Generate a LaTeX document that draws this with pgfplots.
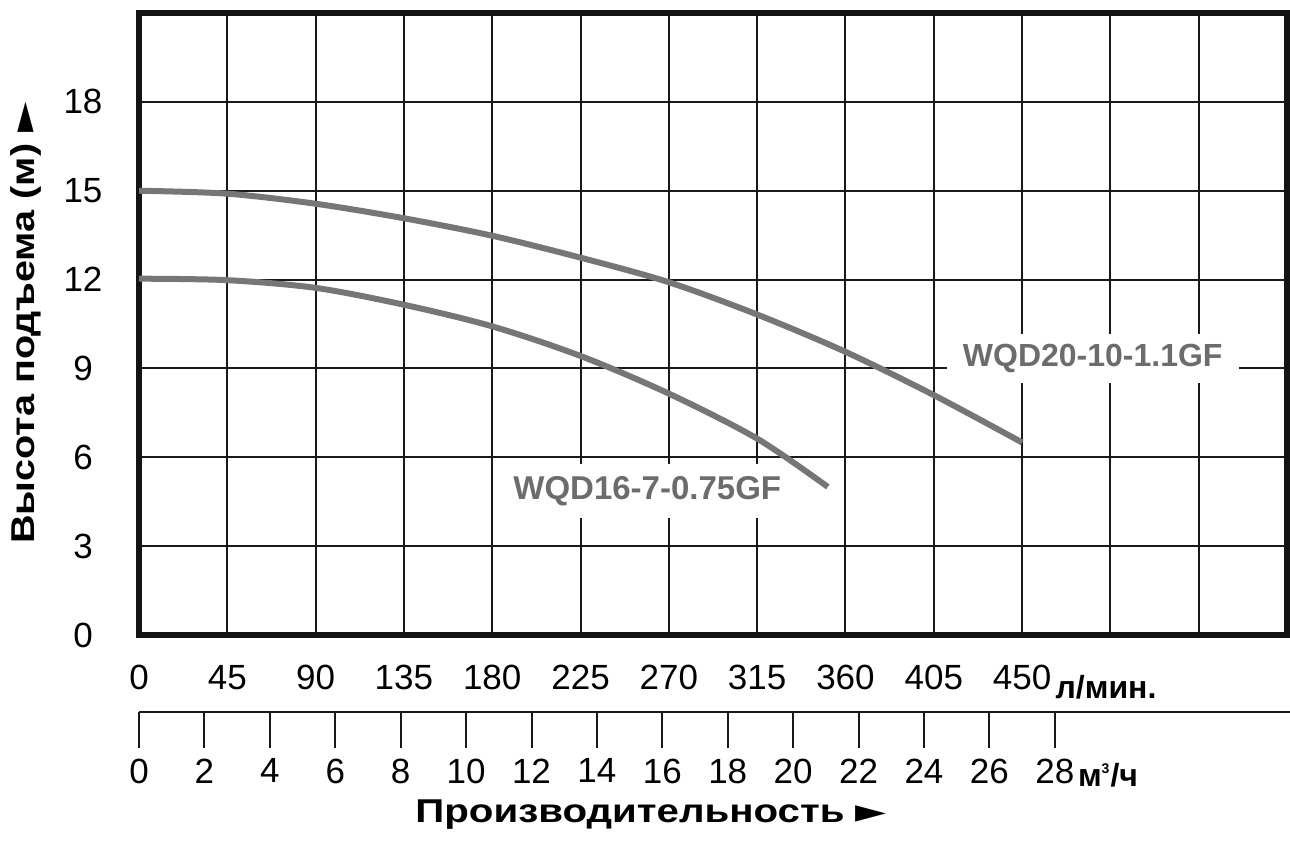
\documentclass[border=0pt]{standalone}
\usepackage{fontspec}
\setmainfont{Liberation Sans}
\newfontfamily\symf{DejaVu Sans}
\usepackage{graphicx}
\usepackage{pgfplots}
\pgfplotsset{compat=1.18}

\definecolor{curvegray}{RGB}{118,118,118}
\definecolor{labelgray}{RGB}{108,108,108}
\definecolor{gridblack}{RGB}{25,25,25}

% head curves (flow l/min, head m)
\pgfplotstableread{
q   h
0   15.0
45  14.9
90  14.56
135 14.07
180 13.48
225 12.74
270 11.91
315 10.82
360 9.56
405 8.10
450 6.50
}\wqdtwenty
\pgfplotstableread{
q   h
0   12.03
45  11.98
90  11.72
135 11.15
180 10.42
225 9.42
270 8.15
315 6.63
351 5.00
}\wqdsixteen

\begin{document}
\begin{tikzpicture}
\useasboundingbox (-69.5pt,-103pt) rectangle (575.5pt,317.5pt);

\begin{axis}[
  at={(0pt,0pt)}, anchor=south west,
  scale only axis, width=574pt, height=311pt,
  xmin=0, xmax=585, ymin=0, ymax=21,
  xtick={0,45,...,585}, ytick={0,3,...,21},
  xticklabels={0,45,90,135,180,225,270,315,360,405,450,{},{},{}},
  yticklabels={0,3,6,9,12,15,18,{}},
  major tick length=0pt,
  grid=major,
  major grid style={gridblack, line width=1pt},
  axis line style={line width=3pt, black!92},
  ticklabel style={font=\fontsize{17.5}{20}\selectfont},
  xticklabel style={yshift=-11.5pt},
  yticklabel style={anchor=center, xshift=-28pt},
]
\node[fill=white, inner xsep=8pt, inner ysep=5pt, text=labelgray,
      font=\bfseries\fontsize{16}{19}\selectfont] at (axis cs:486,9.34) {WQD20-10-1.1GF};
\node[fill=white, inner xsep=4pt, inner ysep=6pt, text=labelgray,
      font=\bfseries\fontsize{16.5}{19}\selectfont] at (axis cs:259,4.87) {WQD16-7-0.75GF};
\addplot[curvegray, line width=3pt, smooth] table[x=q, y=h] {\wqdtwenty};
\addplot[curvegray, line width=3pt, smooth] table[x=q, y=h] {\wqdsixteen};
\end{axis}

% second scale in m3/h
\begin{axis}[
  at={(0pt,-38.5pt)}, anchor=south west,
  scale only axis, width=575.5pt, height=10pt,
  xmin=0, xmax=35.19, ymin=0, ymax=1,
  hide y axis,
  axis x line*=bottom,
  x axis line style={-},
  axis line style={line width=1pt, gridblack},
  xtick={0,2,...,28},
  xticklabels={0,2,4,6,8,10,12,14,16,18,20,22,24,26,28},
  tick align=outside,
  major tick length=18pt,
  major tick style={line width=1pt, gridblack},
  ticklabel style={font=\fontsize{17.5}{20}\selectfont},
  xticklabel style={yshift=-1.9pt},
]
\end{axis}

\node[anchor=center, font=\bfseries\fontsize{16}{19}\selectfont] at (483.5pt,-26pt) {л/мин.};
\node[anchor=center, font=\bfseries\fontsize{16}{19}\selectfont] at (484.5pt,-70pt) {м\textsuperscript{\scriptsize 3}/ч};
\node[anchor=base, font=\bfseries\fontsize{16.5}{19}\selectfont] at (256pt,-93.5pt)
  {\scalebox{1.22}[1]{Производительность {\symf ►}}};
\node[anchor=base, rotate=90, font=\bfseries\fontsize{16.5}{19}\selectfont] at (-52pt,156pt)
  {\scalebox{1.2}[1]{Высота подъема (м) {\symf ►}}};
\end{tikzpicture}
\end{document}
